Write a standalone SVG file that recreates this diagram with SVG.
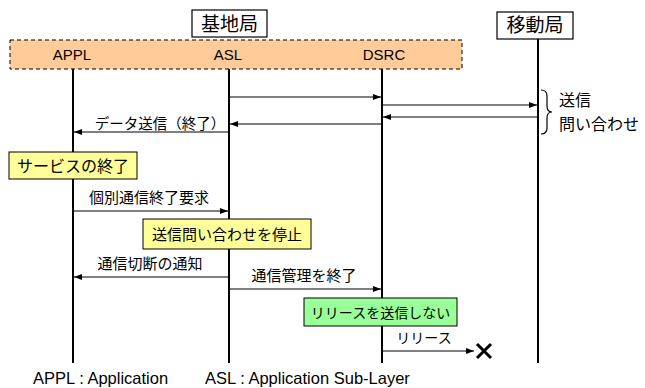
<svg xmlns="http://www.w3.org/2000/svg" width="645" height="388" viewBox="0 0 645 388">
<defs>
<marker id="ah" markerWidth="8" markerHeight="6" refX="8" refY="3" orient="auto" markerUnits="userSpaceOnUse">
<path d="M0,0 L8,3 L0,6 Z" fill="#000"/>
</marker>
</defs>
<style>
.jp{font-family:"Noto Sans CJK JP","Liberation Sans",sans-serif;fill:#000}
.en{font-family:"Liberation Sans","Noto Sans CJK JP",sans-serif;fill:#000}
.life{stroke:#000;stroke-width:2;fill:none}
.msg{stroke:#000;stroke-width:1.2;fill:none;marker-end:url(#ah)}
.note{stroke:#000;stroke-width:1}
</style>
<rect width="645" height="388" fill="#fff"/>
<g id="lifelines">
<line class="life" x1="73" y1="69" x2="73" y2="363"/>
<line class="life" x1="229" y1="69" x2="229" y2="363"/>
<line class="life" x1="382" y1="69" x2="382" y2="363"/>
<line class="life" x1="538" y1="39" x2="538" y2="363"/>
</g>
<g id="base-station">
<rect x="192" y="10" width="75" height="27" fill="#fff" stroke="#000" stroke-width="1.2"/>
<text class="jp" x="229.5" y="31" font-size="19" text-anchor="middle">基地局</text>
</g>
<g id="layers">
<rect x="10" y="40" width="452" height="29" fill="#FFCC99" stroke="#000" stroke-width="1" stroke-dasharray="4,3"/>
<text class="en" x="72" y="60" font-size="15" text-anchor="middle">APPL</text>
<text class="en" x="228" y="60" font-size="15" text-anchor="middle">ASL</text>
<text class="en" x="384" y="60" font-size="15" text-anchor="middle">DSRC</text>
</g>
<g id="mobile-station">
<rect x="497" y="12" width="76" height="27" fill="#fff" stroke="#000" stroke-width="1.2"/>
<text class="jp" x="535" y="32" font-size="19" text-anchor="middle">移動局</text>
</g>
<g id="connectors">
<line class="msg" x1="229" y1="97" x2="381" y2="97"/>
<line class="msg" x1="382" y1="105" x2="537" y2="105"/>
<line class="msg" x1="538" y1="117" x2="383" y2="117"/>
<line class="msg" x1="382" y1="124" x2="230" y2="124"/>
<line class="msg" x1="229" y1="132" x2="74" y2="132"/>
<line class="msg" x1="73" y1="211" x2="228" y2="211"/>
<line class="msg" x1="229" y1="277" x2="74" y2="277"/>
<line class="msg" x1="229" y1="289" x2="381" y2="289"/>
<line class="msg" x1="382" y1="351" x2="474" y2="351"/>
<path d="M477,344 L491,358 M491,344 L477,358" stroke="#000" stroke-width="3" fill="none"/>
<path d="M541,90 Q547,90 547,96 L547,106 Q547,112 552,112 Q547,112 547,118 L547,128 Q547,134 541,134" stroke="#000" stroke-width="1.2" fill="none"/>
</g>
<g id="labels">
<text class="jp" x="559" y="106" font-size="16">送信</text>
<text class="jp" x="559" y="130" font-size="16">問い合わせ</text>
<text class="jp" x="160" y="129" font-size="14.5" text-anchor="middle">データ送信（終了）</text>
<text class="jp" x="149" y="203" font-size="15" text-anchor="middle">個別通信終了要求</text>
<text class="jp" x="150" y="269" font-size="15" text-anchor="middle">通信切断の通知</text>
<text class="jp" x="304" y="281" font-size="15" text-anchor="middle">通信管理を終了</text>
<text class="jp" x="424" y="343" font-size="14" text-anchor="middle">リリース</text>
</g>
<g id="note-service-end">
<rect class="note" x="9" y="152" width="128" height="27" fill="#FFFF99"/>
<text class="jp" x="73" y="171.5" font-size="16" text-anchor="middle">サービスの終了</text>
</g>
<g id="note-stop-inquiry">
<rect class="note" x="143" y="219" width="168" height="30" fill="#FFFF99"/>
<text class="jp" x="227" y="240" font-size="15" text-anchor="middle">送信問い合わせを停止</text>
</g>
<g id="note-no-release">
<rect class="note" x="304" y="298" width="153" height="28" fill="#99FF99"/>
<text class="jp" x="380.5" y="317.5" font-size="14" text-anchor="middle">リリースを送信しない</text>
</g>
<g id="legend">
<text class="en" x="33" y="384" font-size="16.5">APPL : Application</text>
<text class="en" x="205" y="384" font-size="16.5">ASL : Application Sub-Layer</text>
</g>
</svg>
